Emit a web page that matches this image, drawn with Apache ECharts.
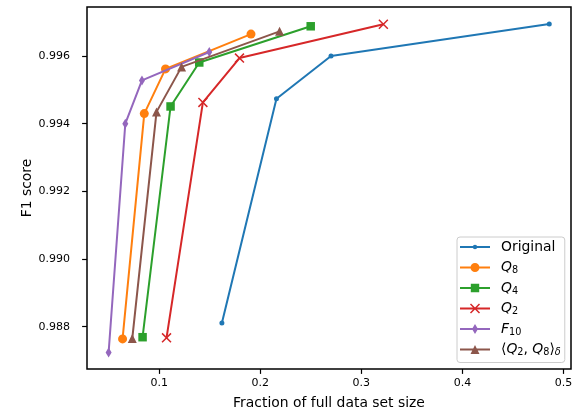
<!DOCTYPE html>
<html>
<head>
<meta charset="utf-8">
<script src="https://cdn.jsdelivr.net/npm/echarts@6/dist/echarts.min.js"></script>
<style>
html,body{margin:0;padding:0;background:#fff;}
#chart{width:579px;height:412px;}
</style>
</head>
<body>
<div id="chart"></div>
<script>
// ---- data ----
var seriesNames = ['Original', 'Q8', 'Q4', 'Q2', 'F10', 'Q2Q8'];
var origX = [0.162, 0.216, 0.270, 0.486];
var origY = [0.98811, 0.99474, 0.99600, 0.99695];
var q8X = [0.0637, 0.0852, 0.1062, 0.1908];
var q8Y = [0.98764, 0.99430, 0.99562, 0.99665];
var q4X = [0.0835, 0.1112, 0.1396, 0.2499];
var q4Y = [0.98769, 0.99451, 0.99581, 0.99688];
var q2X = [0.1072, 0.1432, 0.1794, 0.3218];
var q2Y = [0.98767, 0.99463, 0.99594, 0.99694];
var f10X = [0.0499, 0.0664, 0.0829, 0.1495];
var f10Y = [0.98724, 0.99400, 0.99528, 0.99612];
var qdX = [0.0733, 0.0973, 0.1221, 0.2191];
var qdY = [0.98765, 0.99435, 0.99568, 0.99673];
var xTicks = [0.1, 0.2, 0.3, 0.4, 0.5];
var yTicks = [0.988, 0.990, 0.992, 0.994, 0.996];

function pairs(xs, ys) { return xs.map(function (x, i) { return [x, ys[i]]; }); }

var colors = ['#1f77b4', '#ff7f0e', '#2ca02c', '#d62728', '#9467bd', '#8c564b'];

var X_PATH = 'path://M-39.7,-50.3L50.3,39.7L39.7,50.3L-50.3,-39.7Z M-39.7,50.3L-50.3,39.7L39.7,-50.3L50.3,-39.7Z';

// legend icons (line + marker), box 360x160
var BOX = 'M0,0L0,0.01L0.01,0Z M360,160L360,159.99L359.99,160Z ';
var LINE = 'M0,70L300,70L300,90L0,90Z ';
var icons = {
  'Original': 'path://' + BOX + LINE + 'M128,80A22,22 0 1 1 172,80A22,22 0 1 1 128,80Z',
  'Q8': 'path://' + BOX + LINE + 'M105,80A45,45 0 1 1 195,80A45,45 0 1 1 105,80Z',
  'Q4': 'path://' + BOX + LINE + 'M108,38L192,38L192,122L108,122Z',
  'Q2': 'path://' + BOX + LINE + 'M110.3,29.7L200.3,119.7L189.7,130.3L99.7,40.3Z M110.3,130.3L99.7,119.7L189.7,29.7L200.3,40.3Z',
  'F10': 'path://' + BOX + LINE + 'M150,30L180,80L150,130L120,80Z',
  'Q2Q8': 'path://' + BOX + LINE + 'M150,35L195,125L105,125Z'
};
var labels = {
  'Original': '{n|Original}',
  'Q8': '{i|Q}{s|8}',
  'Q4': '{i|Q}{s|4}',
  'Q2': '{i|Q}{s|2}',
  'F10': '{i|F}{s|10}',
  'Q2Q8': '{n|\u27E8}{i|Q}{s|2}{n|, }{i|Q}{s|8}{n|\u27E9}{si|\u03B4}'
};

var defs = [
  { name: 'Original', data: pairs(origX, origY), symbol: 'circle', size: 5 },
  { name: 'Q8', data: pairs(q8X, q8Y), symbol: 'circle', size: 9 },
  { name: 'Q4', data: pairs(q4X, q4Y), symbol: 'rect', size: 8.5 },
  { name: 'Q2', data: pairs(q2X, q2Y), symbol: X_PATH, size: 10 },
  { name: 'F10', data: pairs(f10X, f10Y), symbol: 'diamond', size: [6, 10] },
  { name: 'Q2Q8', data: pairs(qdX, qdY), symbol: 'triangle', size: 9 }
];

var series = defs.map(function (d, i) {
  return {
    name: d.name,
    type: 'line',
    data: d.data,
    z: 2 + i,
    symbol: d.symbol,
    symbolSize: d.size,
    showAllSymbol: true,
    color: colors[i],
    lineStyle: { color: colors[i], width: 2 },
    itemStyle: { color: colors[i], borderWidth: 0, opacity: 1 },
    emphasis: { disabled: true },
    animation: false
  };
});

var FONT = 'DejaVu Sans';
var chart = echarts.init(document.getElementById('chart'), null, { renderer: 'canvas' });
chart.setOption({
  backgroundColor: '#ffffff',
  animation: false,
  grid: {
    left: 87, top: 7, width: 484, height: 362,
    outerBoundsMode: 'none',
    containLabel: false,
    show: true, borderColor: '#000', borderWidth: 1.5, backgroundColor: 'transparent'
  },
  xAxis: {
    type: 'value',
    min: 0.0285, max: 0.5075,
    name: 'Fraction of full data set size',
    nameLocation: 'middle',
    nameGap: 27,
    nameMoveOverlap: false,
    nameTextStyle: { fontFamily: FONT, fontSize: 13.9, color: '#000' },
    axisLine: { show: false },
    axisTick: { show: true, customValues: xTicks, length: 4.9, lineStyle: { color: '#000', width: 1.2 } },
    axisLabel: { customValues: xTicks, margin: 9, fontFamily: FONT, fontSize: 11, color: '#000',
      formatter: function (v) { return v.toFixed(1); } },
    splitLine: { show: false }
  },
  yAxis: {
    type: 'value',
    min: 0.98675, max: 0.99745,
    name: 'F1 score',
    nameLocation: 'middle',
    nameGap: 53,
    nameMoveOverlap: false,
    nameTextStyle: { fontFamily: FONT, fontSize: 13.9, color: '#000' },
    axisLine: { show: false },
    axisTick: { show: true, customValues: yTicks, length: 4.9, lineStyle: { color: '#000', width: 1.2 } },
    axisLabel: { customValues: yTicks, margin: 17, fontFamily: FONT, fontSize: 11, color: '#000',
      formatter: function (v) { return v.toFixed(3); } },
    splitLine: { show: false }
  },
  legend: {
    orient: 'vertical',
    left: 457, top: 237,
    padding: [2, 4, 5, 3],
    itemWidth: 36, itemHeight: 16, itemGap: 4.5,
    symbolKeepAspect: false,
    backgroundColor: 'rgba(255,255,255,0.8)',
    borderColor: '#cccccc', borderWidth: 1, borderRadius: 3,
    itemStyle: { borderWidth: 0 },
    data: seriesNames.map(function (n) { return { name: n, icon: icons[n] }; }),
    formatter: function (n) { return labels[n]; },
    textStyle: {
      fontFamily: FONT, fontSize: 13.9, color: '#000',
      rich: {
        n: { fontFamily: FONT, fontSize: 13.9, lineHeight: 16, color: '#000' },
        i: { fontFamily: FONT, fontSize: 13.9, fontStyle: 'italic', lineHeight: 16, color: '#000' },
        s: { fontFamily: FONT, fontSize: 9.7, lineHeight: 11, verticalAlign: 'bottom', color: '#000' },
        si: { fontFamily: FONT, fontSize: 9.7, fontStyle: 'italic', lineHeight: 11, verticalAlign: 'bottom', color: '#000' }
      }
    }
  },
  series: series
});
</script>
</body>
</html>
